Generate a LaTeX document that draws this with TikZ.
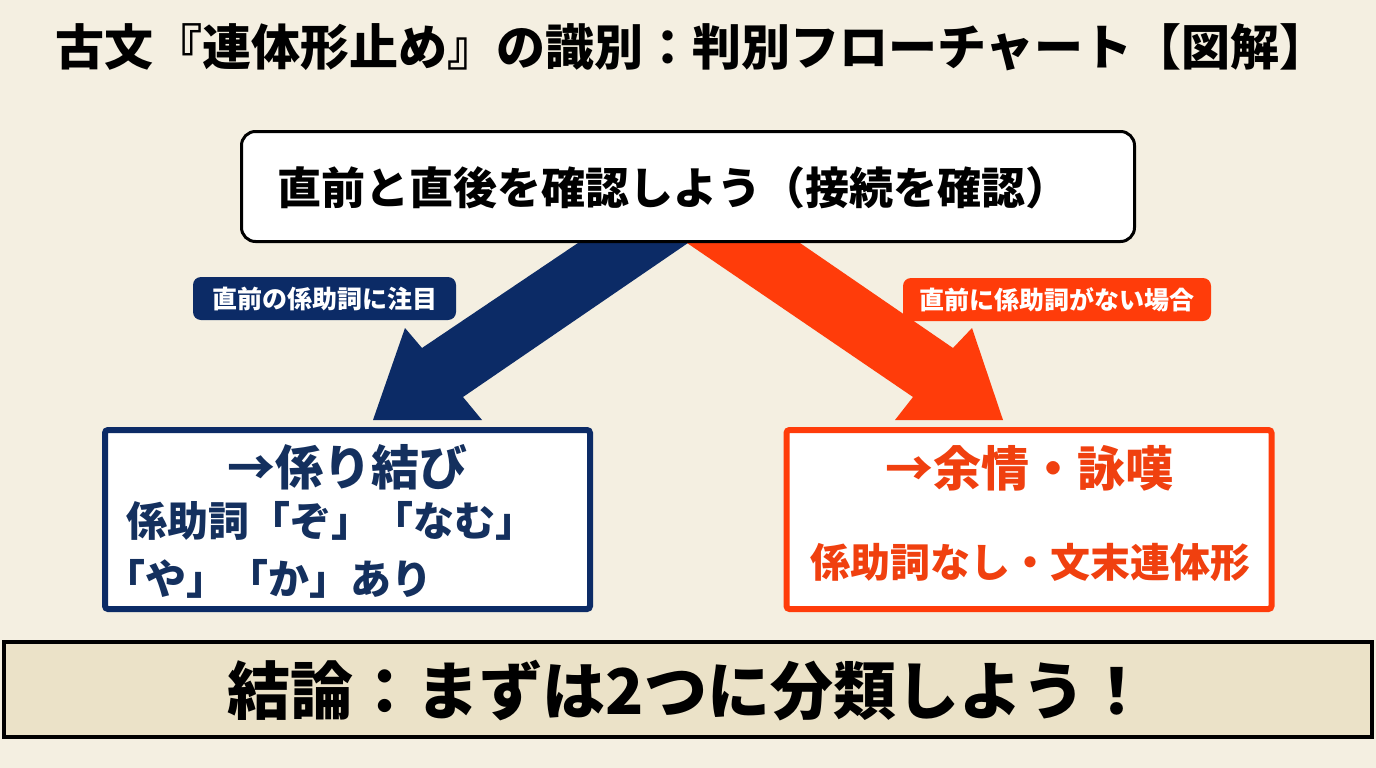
\documentclass[tikz,border=0pt]{standalone}
\usepackage{fontspec}
\setmainfont{Noto Sans CJK JP}
\definecolor{paper}{HTML}{F4EFE1}
\definecolor{banner}{HTML}{EBE2C8}
\definecolor{navy}{HTML}{0C2B66}
\definecolor{navytext}{HTML}{14305E}
\definecolor{redor}{HTML}{FF3C0A}
\definecolor{redtext}{HTML}{F0400F}
\tikzset{
  fs/.style={font=\fontsize{#1}{#1}\selectfont\bfseries},
  tagbox/.style={rounded corners=8pt, minimum width=#1, minimum height=43pt, text=white, inner sep=0pt, fs=25},
  resultbox/.style={fill=white, line width=6pt, rounded corners=3pt, minimum width=485pt, minimum height=179pt},
  plain/.style={inner sep=0pt}
}
\begin{document}
\begin{tikzpicture}[x=1pt,y=-1pt]
\fill[paper] (0,0) rectangle (1376,768);
\useasboundingbox (0,0) rectangle (1376,768);

% title
\node[plain, fs=49] (title) at (692,47) {古文『連体形止め』の識別：判別フローチャート【図解】};

% arrows (behind the top box)
\coordinate (bA) at (578,243);
\coordinate (bB) at (688,243);
\coordinate (rA) at (687,243);
\coordinate (rB) at (800,243);
\fill[navy] (bA) -- (422,348) -- (405,328) -- (373,420) -- (482,420) -- (463,397) -- (bB) -- cycle;
\fill[redor] (rA) -- (913,397) -- (895,420) -- (1003,420) -- (972,328) -- (953,348) -- (rB) -- cycle;

% top box
\node[draw=black, fill=white, line width=3pt, rounded corners=14pt, minimum width=893pt, minimum height=110pt] (top) at (688,186.5) {};
\node[plain, fs=44, anchor=west] (toptext) at (277,188) {直前と直後を確認しよう（接続を確認）};

% labels
\node[tagbox=263pt, fill=navy] (lblL) at (324.5,298.5) {直前の係助詞に注目};
\node[tagbox=308pt, fill=redor] (lblR) at (1057,299.5) {直前に係助詞がない場合};

% result boxes
\node[resultbox, draw=navy] (left) at (347.5,519.5) {};
\node[resultbox, draw=redor] (right) at (1029,519.5) {};

\node[plain, fs=48, text=navytext] (l1) at (347,467) {→係り結び};
\node[plain, fs=41, text=navytext, anchor=west] (l2) at (126,521) {係助詞「ぞ」「なむ」};
\node[plain, fs=41, text=navytext, anchor=west] (l3) at (104,579) {「や」「か」あり};

\node[plain, fs=48, text=redtext] (r1) at (1029,468) {→余情・詠嘆};
\node[plain, fs=40, text=redtext] (r2) at (1030,562) {係助詞なし・文末連体形};

% conclusion banner
\node[draw=black, fill=banner, line width=4pt, minimum width=1368pt, minimum height=95pt] (concl) at (688,689.5) {};
\node[plain, fs=63] (concltext) at (688,691) {結論：まずは2つに分類しよう！};
\end{tikzpicture}
\end{document}
